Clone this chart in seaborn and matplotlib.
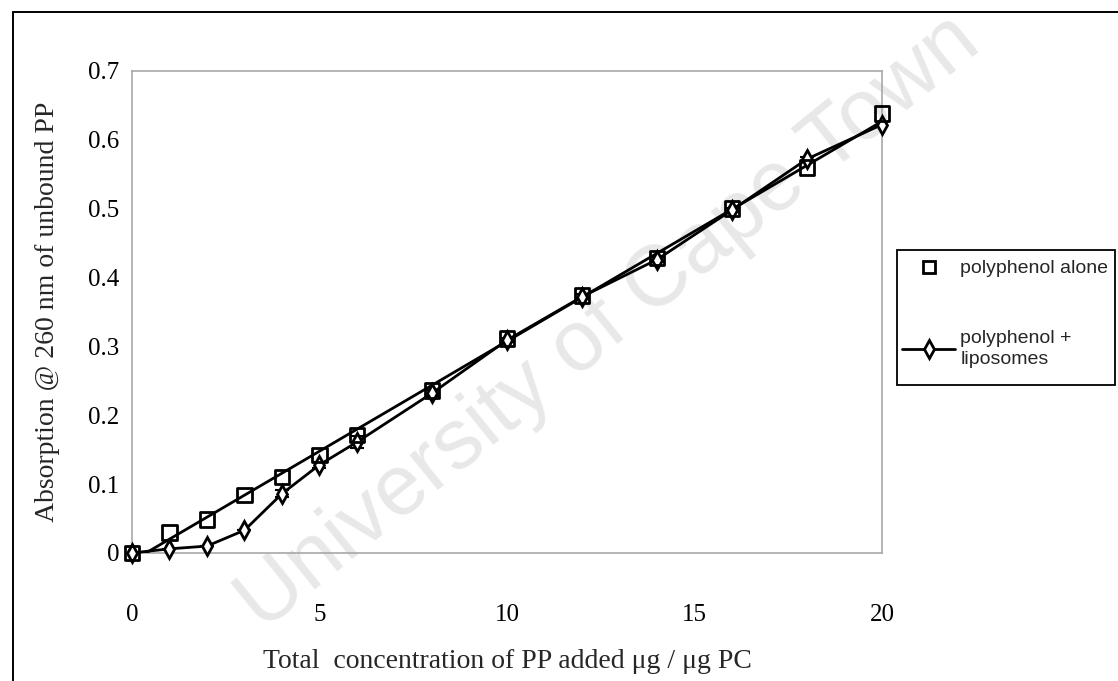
import matplotlib
matplotlib.use("Agg")
import matplotlib.pyplot as plt
from matplotlib.lines import Line2D
from matplotlib.patches import Rectangle
import pandas as pd
import seaborn as sns

# Total concentration of polyphenol added (ug / ug PC)
concentration = [0, 1, 2, 3, 4, 5, 6, 8, 10, 12, 14, 16, 18, 20]
# Absorption at 260 nm of unbound polyphenol
polyphenol_alone = [0.0, 0.030, 0.049, 0.084, 0.110, 0.142, 0.171, 0.236,
                    0.311, 0.374, 0.428, 0.500, 0.560, 0.638]
polyphenol_liposomes = [0.0, 0.006, 0.010, 0.033, 0.086, 0.128, 0.161, 0.232,
                        0.309, 0.372, 0.426, 0.498, 0.572, 0.622]
liposomes_err = [0.0, 0.0, 0.0, 0.0, 0.005, 0.004, 0.009, 0.004,
                 0.003, 0.004, 0.003, 0.003, 0.003, 0.004]

x_ticks = [0, 5, 10, 15, 20]
y_ticks = [0, 0.1, 0.2, 0.3, 0.4, 0.5, 0.6, 0.7]
y_tick_labels = ["0", "0.1", "0.2", "0.3", "0.4", "0.5", "0.6", "0.7"]

df_alone = pd.DataFrame({"conc": concentration, "abs": polyphenol_alone})
df_lipo = pd.DataFrame({"conc": concentration, "abs": polyphenol_liposomes,
                        "err": liposomes_err})

sns.set_style("white")
plt.rcParams["font.family"] = ["Liberation Serif", "DejaVu Serif"]

fig = plt.figure(figsize=(11.18, 6.81), dpi=100)
ax = fig.add_axes([0.118, 0.188, 0.671, 0.708])
ax.patch.set_alpha(0)

# faint diagonal watermark behind the plot
ax.text(0.545, 0.525, "University of Cape Town", transform=fig.transFigure,
        rotation=39, ha="center", va="center", fontsize=62,
        family="Liberation Sans", color="#e8e8e8", zorder=0, clip_on=False)

# linear trend of the polyphenol-alone readings
sns.regplot(data=df_alone, x="conc", y="abs", ax=ax, scatter=False, ci=None,
            truncate=True, line_kws=dict(color="black", lw=2.0, zorder=3))

# polyphenol + liposomes, joined point to point
ax.errorbar(df_lipo["conc"], df_lipo["abs"], yerr=df_lipo["err"], fmt="none",
            ecolor="black", elinewidth=1.2, capsize=5, capthick=1.5, zorder=3)
sns.lineplot(data=df_lipo, x="conc", y="abs", ax=ax, color="black", lw=2.0,
             marker="d", markersize=9, markerfacecolor="white",
             markeredgecolor="black", markeredgewidth=2.0, zorder=4,
             clip_on=False)

# polyphenol alone, markers only
sns.scatterplot(data=df_alone, x="conc", y="abs", ax=ax, marker="s", s=110,
                facecolor="none", edgecolor="black", linewidth=2.0, zorder=5,
                clip_on=False)

ax.set_xlim(0, 20)
ax.set_ylim(0, 0.7)
ax.set_xticks(x_ticks)
ax.set_xticklabels([str(t) for t in x_ticks])
ax.set_yticks(y_ticks)
ax.set_yticklabels(y_tick_labels)

for side in ["left", "right", "top", "bottom"]:
    ax.spines[side].set_visible(True)
    ax.spines[side].set_color("#a8a8a8")
    ax.spines[side].set_linewidth(1.2)

ax.tick_params(axis="both", which="major", direction="out", length=4,
               width=1, color="#a8a8a8", labelsize=18, labelcolor="black")
ax.tick_params(axis="x", pad=33)
ax.tick_params(axis="y", pad=5)

ax.set_xlabel("Total  concentration of PP added \u03bcg / \u03bcg PC",
              fontsize=20, labelpad=16)
ax.set_ylabel("Absorption @ 260 nm of unbound PP", fontsize=20, labelpad=20)

# legend box
fig.add_artist(Rectangle((0.8023, 0.4347), 0.195, 0.1982,
                         transform=fig.transFigure, facecolor="white",
                         edgecolor="black", lw=1.3, zorder=2))
handles = [
    Line2D([], [], linestyle="none", marker="s", markersize=9,
           markerfacecolor="white", markeredgecolor="black",
           markeredgewidth=2.0),
    Line2D([], [], color="black", lw=2.0, marker="d", markersize=9,
           markerfacecolor="white", markeredgecolor="black",
           markeredgewidth=2.0),
]
labels = ["polyphenol alone", "polyphenol +\nliposomes"]
leg = fig.legend(handles, labels, loc="upper left",
                 bbox_to_anchor=(0.8068, 0.6185), bbox_transform=fig.transFigure,
                 frameon=False, prop=dict(family="Liberation Sans", size=14),
                 handlelength=2.75, handletextpad=0.25, labelspacing=2.7,
                 borderpad=0, borderaxespad=0)
leg.set_zorder(3)
for t in leg.get_texts():
    t.set_linespacing(1.3)

# outer chart border (left and top edges)
fig.add_artist(Line2D([0.012, 0.012], [0.0, 0.982], color="black", lw=1.4,
                      transform=fig.transFigure))
fig.add_artist(Line2D([0.012, 1.0], [0.982, 0.982], color="black", lw=1.4,
                      transform=fig.transFigure))

fig.savefig("out.png", dpi=100)
